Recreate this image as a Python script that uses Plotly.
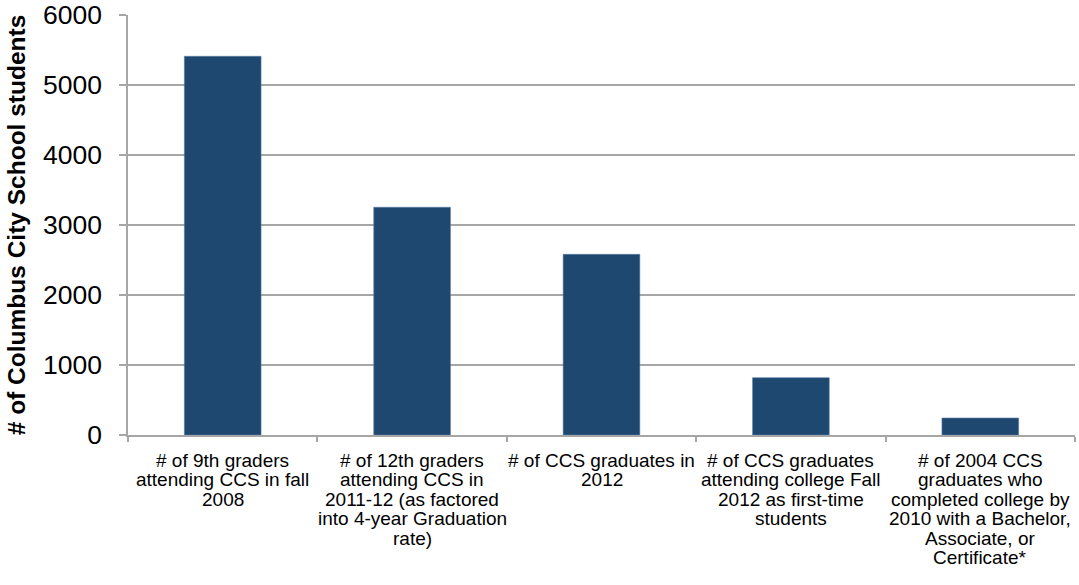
import plotly.graph_objects as go

categories = [
    "# of 9th graders<br>attending CCS in fall<br>2008",
    "# of 12th graders<br>attending CCS in<br>2011-12 (as factored<br>into 4-year Graduation<br>rate)",
    "# of CCS graduates in<br>2012",
    "# of CCS graduates<br>attending college Fall<br>2012 as first-time<br>students",
    "# of 2004 CCS<br>graduates who<br>completed college by<br>2010 with a Bachelor,<br>Associate, or<br>Certificate*",
]
values = [5410, 3253, 2581, 819, 243]
y_ticks = [0, 1000, 2000, 3000, 4000, 5000, 6000]
y_title = "# of Columbus City School students"

FONT = "Liberation Sans, Arial, sans-serif"
BAR = "#1E4870"
GRID = "#A6A6A6"

fig = go.Figure(
    go.Bar(
        x=categories,
        y=values,
        marker=dict(color=BAR, line=dict(color="#5A7FA6", width=0.6)),
        hoverinfo="x+y",
    )
)

# category labels drawn line by line to reproduce the tight line spacing
annotations = []
for cat in categories:
    for i, line in enumerate(cat.split("<br>")):
        annotations.append(
            dict(
                x=cat, xref="x", y=0, yref="paper",
                text=line, showarrow=False,
                xanchor="center", yanchor="top",
                yshift=-(13 + i * 19.4),
                font=dict(family=FONT, size=19, color="#000000"),
            )
        )

fig.update_layout(
    width=1079,
    height=585,
    margin=dict(l=127.5, r=4, t=15, b=150, autoexpand=False),
    paper_bgcolor="white",
    plot_bgcolor="white",
    bargap=0.595,
    showlegend=False,
    font=dict(family=FONT, color="#000000"),
    annotations=annotations,
)

fig.update_xaxes(
    type="category",
    automargin=False,
    showticklabels=False,
    showline=True,
    linecolor=GRID,
    linewidth=1.5,
    ticks="outside",
    tickson="boundaries",
    ticklen=5,
    tickcolor=GRID,
    tickwidth=1.5,
    showgrid=False,
)

fig.update_yaxes(
    range=[0, 6000],
    automargin=False,
    tickvals=y_ticks,
    ticktext=[str(v) for v in y_ticks],
    tickfont=dict(family=FONT, size=26.5, color="#000000"),
    ticklabeloverflow="allow",
    showline=True,
    linecolor=GRID,
    linewidth=1.5,
    ticks="outside",
    ticklen=7,
    tickcolor=GRID,
    tickwidth=1.5,
    ticklabelstandoff=12,
    showgrid=True,
    gridcolor=GRID,
    gridwidth=1.5,
    zeroline=False,
    title=dict(
        text="<b>" + y_title + "</b>",
        font=dict(family=FONT, size=24.5, color="#000000"),
        standoff=10,
    ),
)

fig.write_html(
    "out.html",
    config={"displayModeBar": False},
    post_script="document.body.style.margin='0px';document.body.style.overflow='hidden';",
)
